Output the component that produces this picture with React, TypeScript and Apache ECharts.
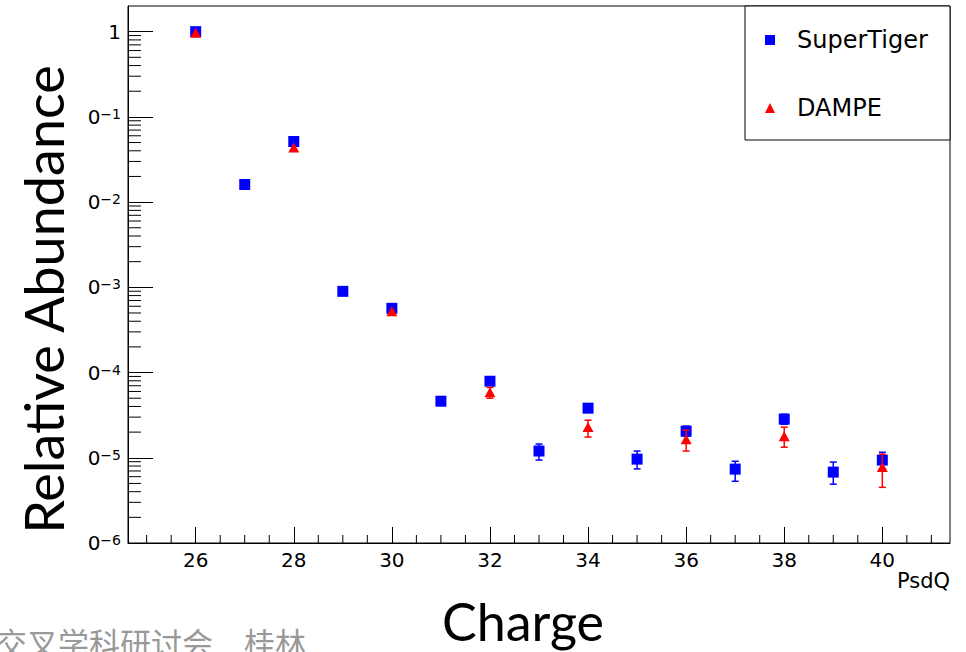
import React, { useEffect, useRef } from 'react';
import * as echarts from 'echarts';

// ---- data ----
const charges = [26, 27, 28, 29, 30, 31, 32, 33, 34, 35, 36, 37, 38, 39, 40];
const superTiger = [1.0, 0.0161, 0.0514, 8.97e-4, 5.67e-4, 4.61e-5, 7.91e-5, 1.2e-5, 3.82e-5, 9.64e-6, 2.05e-5, 7.36e-6, 2.84e-5, 6.79e-6, 9.39e-6];
// [charge, low, high]
const superTigerErr = [
  [33, 9.4e-6, 1.45e-5],
  [35, 7.4e-6, 1.2e-5],
  [36, 1.79e-5, 2.35e-5],
  [37, 5.3e-6, 9.1e-6],
  [38, 2.48e-5, 3.25e-5],
  [39, 4.9e-6, 8.9e-6],
  [40, 7.4e-6, 1.16e-5],
];
const dampeCharges = [26, 28, 30, 32, 34, 36, 38, 40];
const dampe = [0.97, 0.0437, 5.23e-4, 5.88e-5, 2.29e-5, 1.65e-5, 1.79e-5, 7.78e-6];
const dampeErr = [
  [32, 5.0e-5, 6.7e-5],
  [34, 1.75e-5, 2.76e-5],
  [36, 1.2e-5, 2.11e-5],
  [38, 1.33e-5, 2.29e-5],
  [40, 4.5e-6, 1.1e-5],
];

const xMin = 24.62;
const xMax = 41.38;
const yMin = 1e-6;
const yMax = 2;
const xMajorTicks = [26, 28, 30, 32, 34, 36, 38, 40];
const xMinorTicks = [25, 25.5, 26.5, 27, 27.5, 28.5, 29, 29.5, 30.5, 31, 31.5, 32.5, 33, 33.5, 34.5, 35, 35.5, 36.5, 37, 37.5, 38.5, 39, 39.5, 40.5, 41];
const yDecades = [1e-6, 1e-5, 1e-4, 1e-3, 1e-2, 1e-1];
const yMinorMultipliers = [2, 3, 4, 5, 6, 7, 8, 9];
const yMinorTicks: number[] = [];
yDecades.forEach((d) => yMinorMultipliers.forEach((m) => yMinorTicks.push(m * d)));

const legendNames = ['SuperTiger', 'DAMPE'];
const footerText = '交叉学科研讨会　桂林';

const ROOT_FONT = 'DejaVu Sans';

export default function App() {
  const ref = useRef<HTMLDivElement>(null);

  useEffect(() => {
    if (!ref.current) return;
    const chart = echarts.init(ref.current, null, { renderer: 'svg' });

    const errRender = (color: string) => (params: any, api: any) => {
      const x = api.value(0);
      const lo = api.coord([x, api.value(1)]);
      const hi = api.coord([x, api.value(2)]);
      const cap = 3.5;
      const style = { stroke: color, lineWidth: 1.5 };
      return {
        type: 'group',
        children: [
          { type: 'line', shape: { x1: lo[0], y1: lo[1], x2: hi[0], y2: hi[1] }, style },
          { type: 'line', shape: { x1: lo[0] - cap, y1: lo[1], x2: lo[0] + cap, y2: lo[1] }, style },
          { type: 'line', shape: { x1: hi[0] - cap, y1: hi[1], x2: hi[0] + cap, y2: hi[1] }, style },
        ],
      };
    };

    const option: any = {
      animation: false,
      backgroundColor: '#fff',
      grid: {
        left: 128,
        right: 16,
        top: 6,
        bottom: 108,
        show: true,
        borderColor: '#000',
        borderWidth: 1,
        backgroundColor: 'transparent',
      },
      legend: {
        data: legendNames,
        orient: 'vertical',
        left: 765,
        top: 28,
        itemWidth: 10,
        itemHeight: 10,
        itemGap: 44,
        padding: 0,
        selectedMode: false,
        z: 10,
        textStyle: { fontFamily: ROOT_FONT, fontSize: 24, color: '#000', padding: [0, 0, 0, 17] },
      },
      xAxis: {
        type: 'value',
        min: xMin,
        max: xMax,
        splitLine: { show: false },
        axisLine: { show: true, lineStyle: { color: '#000', width: 1 } },
        axisTick: { show: true, inside: true, length: 16, customValues: xMajorTicks, lineStyle: { color: '#000', width: 1 } },
        axisLabel: {
          customValues: xMajorTicks,
          margin: 7,
          fontFamily: ROOT_FONT,
          fontSize: 20,
          color: '#000',
        },
        name: 'Charge',
        nameLocation: 'middle',
        nameGap: 52,
        nameTextStyle: { fontFamily: 'Lato', fontSize: 52, color: '#000', padding: [0, 32, 0, 0] },
      },
      yAxis: {
        type: 'log',
        min: yMin,
        max: yMax,
        logBase: 10,
        splitNumber: 6,
        splitLine: { show: false },
        axisLine: { show: true, lineStyle: { color: '#000', width: 1 } },
        axisTick: { show: true, inside: true, length: 25, lineStyle: { color: '#000', width: 1 } },
        axisLabel: {
          margin: 7,
          showMaxLabel: false,
          color: '#000',
          fontFamily: ROOT_FONT,
          formatter: (v: number) => {
            const e = Math.round(Math.log10(v));
            if (e === 0) return '{one|1}';
            return '{b|0}{s|\u2212' + -e + '}';
          },
          rich: {
            one: { fontFamily: ROOT_FONT, fontSize: 20, color: '#000' },
            b: { fontFamily: ROOT_FONT, fontSize: 20, lineHeight: 20, padding: [5, 0, 0, 0], verticalAlign: 'bottom', color: '#000' },
            s: { fontFamily: ROOT_FONT, fontSize: 14, lineHeight: 14, verticalAlign: 'top', color: '#000' },
          },
        },
        name: 'Relative Abundance',
        nameLocation: 'middle',
        nameRotate: 90,
        nameGap: 58,
        nameTextStyle: { fontFamily: 'Lato', fontSize: 54, color: '#000', padding: [0, 50, 0, 0] },
      },
      series: [
        {
          type: 'custom',
          name: 'yMinor',
          silent: true,
          z: 1,
          data: yMinorTicks.map((v) => [xMin, v]),
          encode: { x: 0, y: 1 },
          renderItem: (params: any, api: any) => {
            const p = api.coord([xMin, api.value(1)]);
            return { type: 'line', shape: { x1: p[0], y1: p[1], x2: p[0] + 13, y2: p[1] }, style: { stroke: '#000', lineWidth: 1 } };
          },
        },
        {
          type: 'custom',
          name: 'xMinor',
          silent: true,
          z: 1,
          data: xMinorTicks.map((v) => [v, yMin]),
          encode: { x: 0, y: 1 },
          renderItem: (params: any, api: any) => {
            const p = api.coord([api.value(0), yMin]);
            return { type: 'line', shape: { x1: p[0], y1: p[1], x2: p[0], y2: p[1] - 8 }, style: { stroke: '#000', lineWidth: 1 } };
          },
        },
        {
          type: 'custom',
          name: 'SuperTigerErr',
          silent: true,
          z: 2,
          data: superTigerErr,
          encode: { x: 0, y: [1, 2] },
          renderItem: errRender('#0000ff'),
        },
        {
          type: 'scatter',
          name: 'SuperTiger',
          z: 3,
          symbol: 'rect',
          symbolSize: 11,
          itemStyle: { color: '#0000ff', opacity: 1 },
          data: charges.map((c, i) => [c, superTiger[i]]),
        },
        {
          type: 'custom',
          name: 'DAMPEErr',
          silent: true,
          z: 4,
          data: dampeErr,
          encode: { x: 0, y: [1, 2] },
          renderItem: errRender('#ff0000'),
        },
        {
          type: 'scatter',
          name: 'DAMPE',
          z: 5,
          symbol: 'triangle',
          symbolSize: [11, 10],
          itemStyle: { color: '#ff0000', opacity: 1 },
          data: dampeCharges.map((c, i) => [c, dampe[i]]),
        },
      ],
      graphic: [
        {
          type: 'rect',
          z: 5,
          shape: { x: 745, y: 6, width: 205, height: 134 },
          style: { fill: '#fff', stroke: '#000', lineWidth: 1 },
        },
        {
          type: 'text',
          x: 950,
          y: 581,
          style: { text: 'PsdQ', fontFamily: ROOT_FONT, fontSize: 21, fill: '#000', textAlign: 'right', textVerticalAlign: 'middle' },
        },
        {
          type: 'text',
          x: -4,
          y: 626,
          style: { text: footerText, fontFamily: 'Noto Sans CJK SC', fontSize: 31, fill: '#999999', textAlign: 'left', textVerticalAlign: 'top' },
        },
      ],
    };

    chart.setOption(option);
    return () => chart.dispose();
  }, []);

  return (
    <div
      ref={ref}
      style={{ position: 'fixed', left: 0, top: 0, width: 966, height: 652, background: '#fff' }}
    />
  );
}
